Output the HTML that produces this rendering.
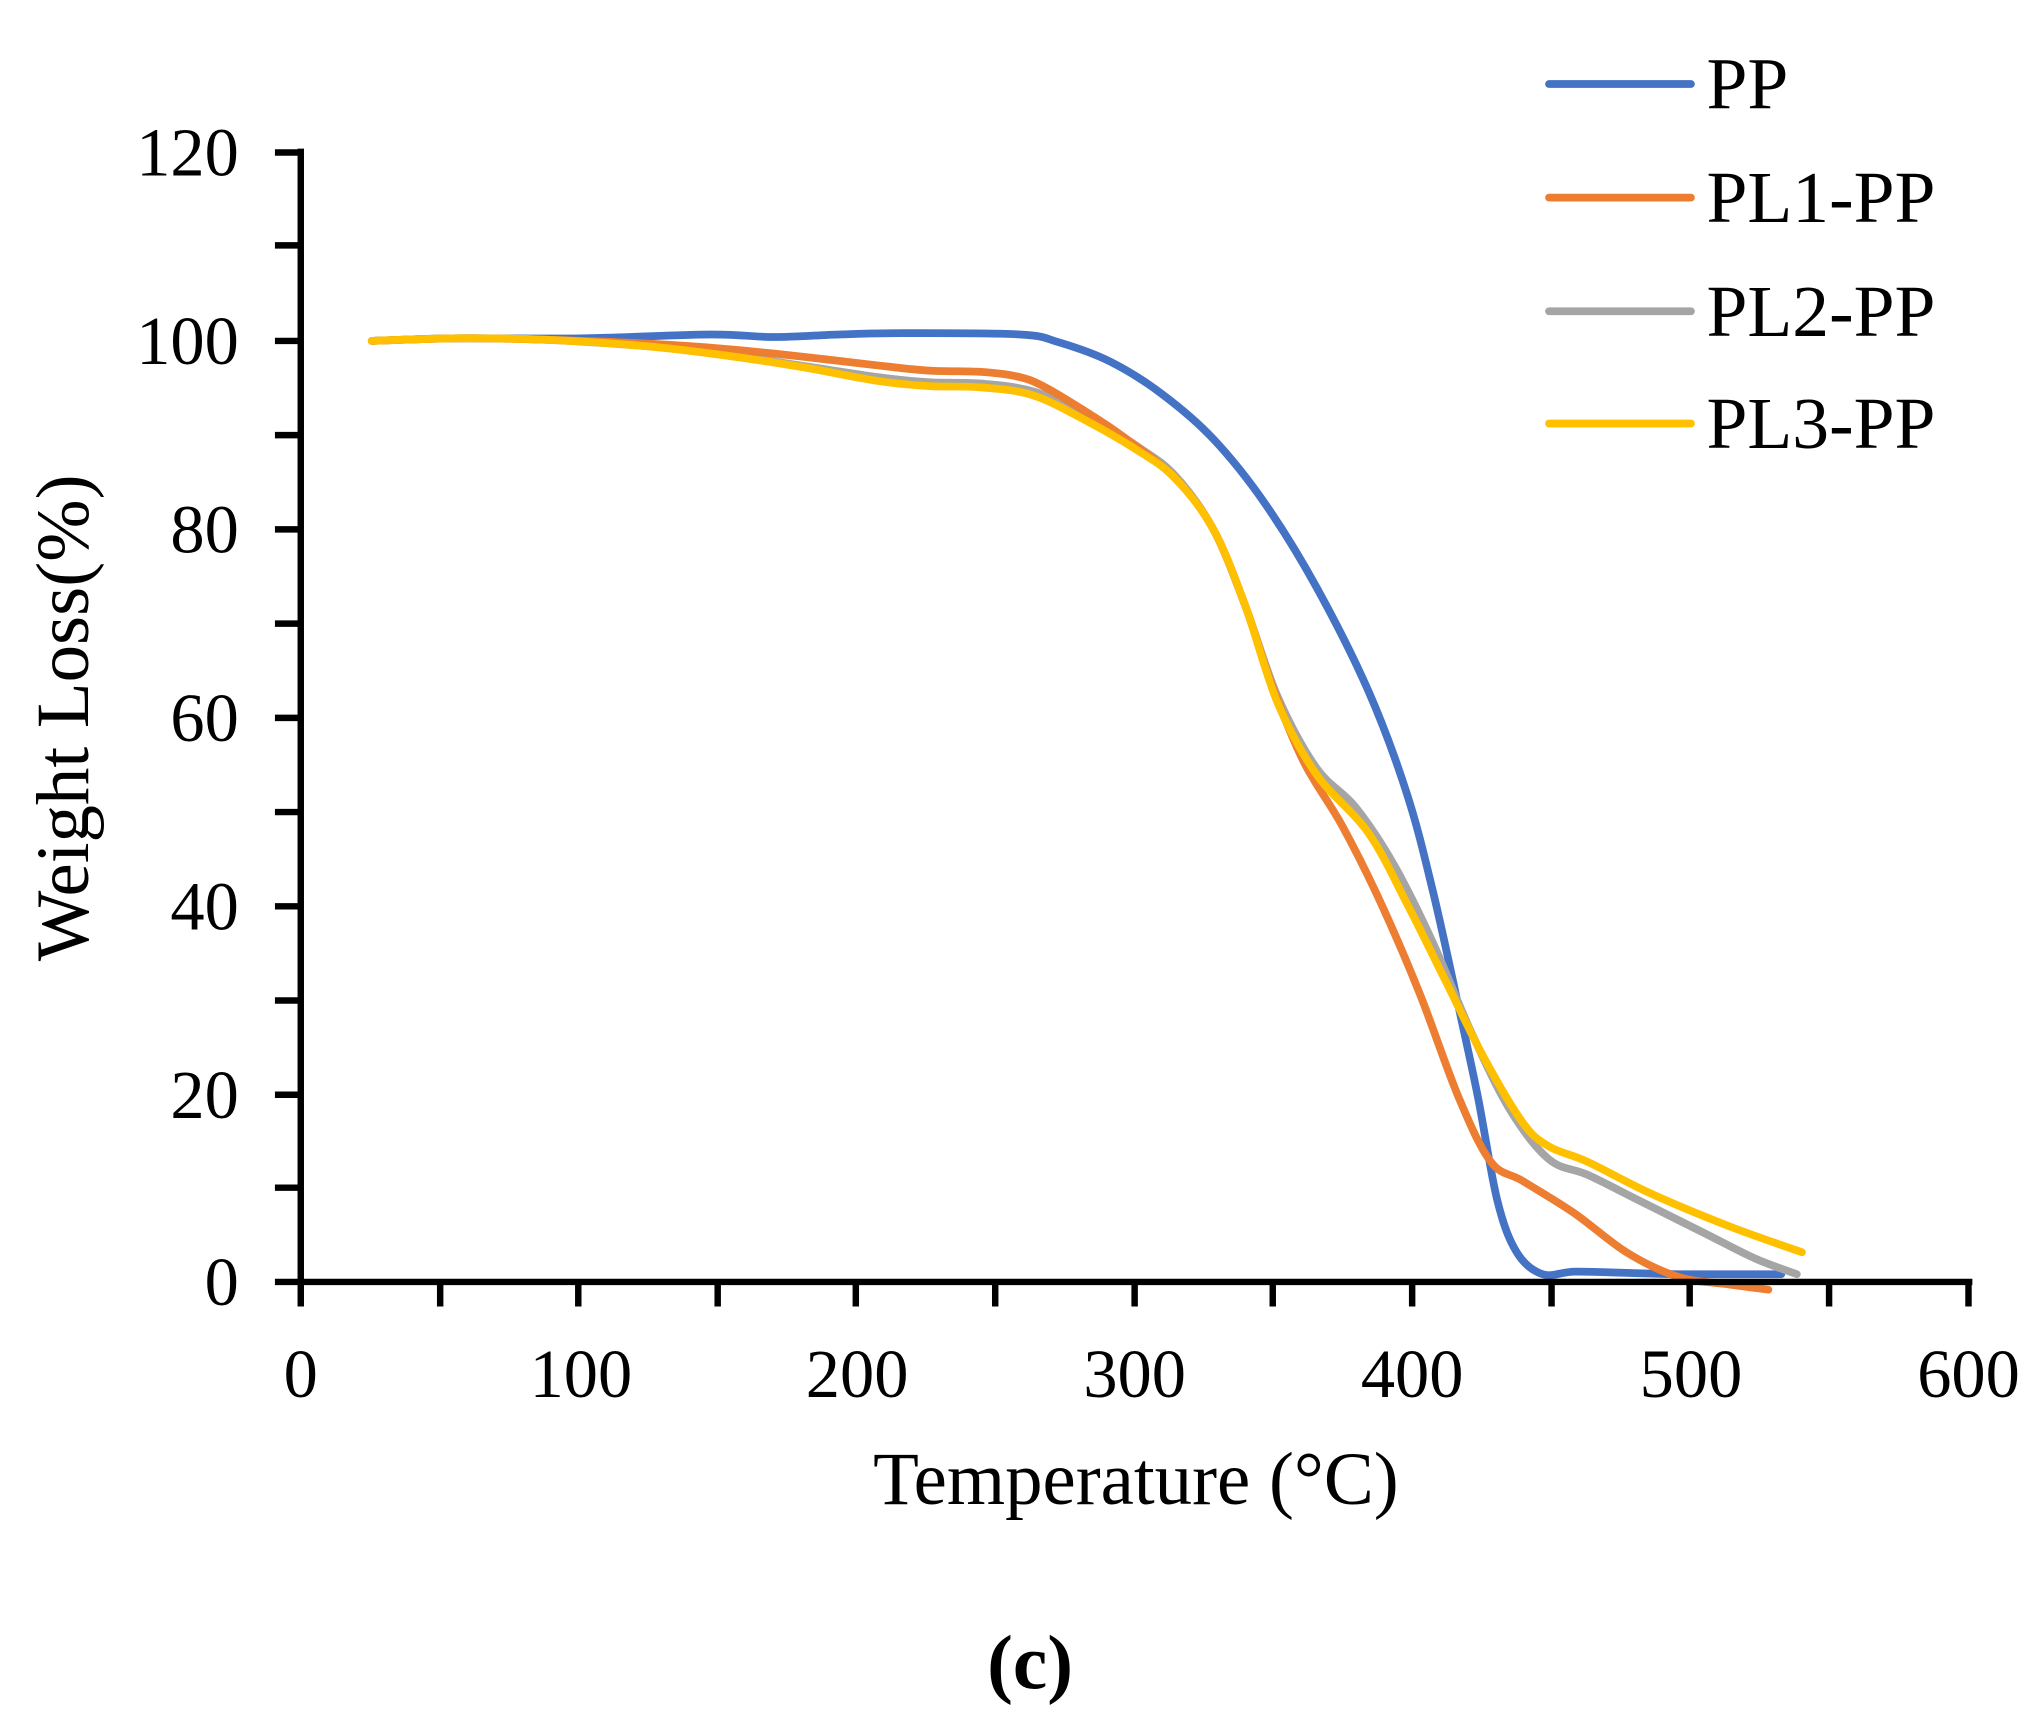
<!DOCTYPE html>
<html><head><meta charset="utf-8"><style>
html,body{margin:0;padding:0;background:#fff;}
svg{display:block;}
text{font-family:"Liberation Serif",serif;fill:#000;}
</style></head><body>
<svg width="2024" height="1730" viewBox="0 0 1568 1340" xmlns="http://www.w3.org/2000/svg">
<g fill="none" stroke-linejoin="round" stroke-linecap="round" stroke-width="6">
<path id="pp" stroke="#4472C4" data-p="288,264 350,262 450,262 550,259 600,261 650,259 700,258 790,259 820,265 860,280 900,305 940,340 980,390 1020,455 1060,535 1090,615 1110,690 1130,780 1145,850 1160,930 1175,970 1195,987 1220,985 1260,986 1300,987 1380,987"/>
<path stroke="#A5A5A5" data-p="288,264 350,262 420,263 500,268 560,274 620,283 680,292 720,296 760,297 800,303 840,320 880,345 910,368 940,410 965,470 990,540 1020,595 1050,625 1080,670 1110,730 1140,800 1170,860 1200,898 1230,910 1270,930 1320,955 1360,975 1392,987"/>
<path stroke="#ED7D31" data-p="288,264 350,262 420,263 500,266 560,270 620,276 680,283 720,287 760,288 790,292 810,300 840,318 870,338 910,370 940,410 965,470 985,530 1010,590 1040,640 1070,700 1100,770 1130,850 1155,900 1180,915 1220,940 1260,970 1300,989 1340,995 1370,999"/>
<path stroke="#FFC000" data-p="288,264 350,262 420,263 500,268 560,275 620,284 680,295 720,299 760,300 800,306 840,325 880,348 910,370 940,410 965,470 990,545 1020,600 1060,645 1090,700 1120,760 1150,820 1180,870 1200,888 1230,900 1280,925 1340,950 1396,970"/>
</g>
<g stroke="#000" stroke-width="5" fill="none">
<line x1="233" y1="115" x2="233" y2="996"/>
<line x1="231" y1="993" x2="1528" y2="993"/>
<path d="M213 118H233M213 190H233M213 264H233M213 337H233M213 410H233M213 483H233M213 556H233M213 629H233M213 702H233M213 775H233M213 848H233M213 920H233M213 993H233"/>
<path d="M233 993V1012M341 993V1012M448 993V1012M556 993V1012M663 993V1012M771 993V1012M879 993V1012M986 993V1012M1094 993V1012M1202 993V1012M1309 993V1012M1417 993V1012M1525 993V1012"/>
</g>
<g font-size="53" text-anchor="end">
<text x="185" y="136">120</text><text x="185" y="282">100</text><text x="185" y="428">80</text>
<text x="185" y="574">60</text><text x="185" y="720">40</text><text x="185" y="866">20</text><text x="185" y="1011">0</text>
</g>
<g font-size="53" text-anchor="middle">
<text x="233" y="1082">0</text><text x="450" y="1082">100</text><text x="664" y="1082">200</text>
<text x="879" y="1082">300</text><text x="1094" y="1082">400</text><text x="1310" y="1082">500</text><text x="1525" y="1082">600</text>
</g>
<text x="880" y="1165" font-size="58" text-anchor="middle">Temperature (°C)</text>
<text transform="translate(68,556) rotate(-90)" font-size="58" text-anchor="middle">Weight Loss(%)</text>
<text x="798" y="1308" font-size="60" text-anchor="middle" font-weight="bold">(c)</text>
<g stroke-width="6" stroke-linecap="round">
<line x1="1200" y1="65" x2="1310" y2="65" stroke="#4472C4"/>
<line x1="1200" y1="153" x2="1310" y2="153" stroke="#ED7D31"/>
<line x1="1200" y1="241" x2="1310" y2="241" stroke="#A5A5A5"/>
<line x1="1200" y1="328" x2="1310" y2="328" stroke="#FFC000"/>
</g>
<g font-size="57">
<text x="1322" y="84">PP</text><text x="1322" y="172">PL1-PP</text>
<text x="1322" y="260">PL2-PP</text><text x="1322" y="347">PL3-PP</text>
</g>
</svg>
<script>
document.querySelectorAll('path[data-p]').forEach(function(el){
var p=el.getAttribute('data-p').trim().split(/\s+/).map(function(s){return s.split(',').map(Number);});
var d='M'+p[0][0]+' '+p[0][1];
for(var i=0;i<p.length-1;i++){
var a=p[Math.max(i-1,0)],b=p[i],c=p[i+1],e=p[Math.min(i+2,p.length-1)];
var c1x=b[0]+(c[0]-a[0])/6,c1y=b[1]+(c[1]-a[1])/6,c2x=c[0]-(e[0]-b[0])/6,c2y=c[1]-(e[1]-b[1])/6;
d+=' C'+c1x.toFixed(1)+' '+c1y.toFixed(1)+' '+c2x.toFixed(1)+' '+c2y.toFixed(1)+' '+c[0]+' '+c[1];
}
el.setAttribute('d',d);el.removeAttribute('data-p');
});
</script>
</body></html>
